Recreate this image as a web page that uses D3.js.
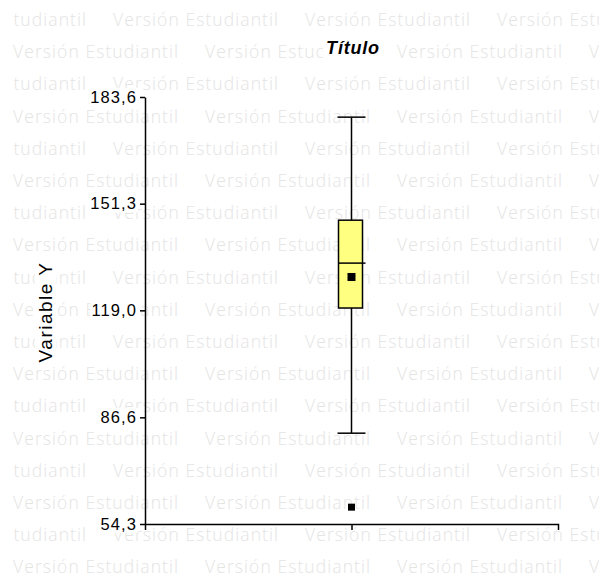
<!DOCTYPE html>
<html>
<head>
<meta charset="utf-8">
<script src="https://cdn.jsdelivr.net/npm/d3@7"></script>
<style>
  html, body { margin: 0; padding: 0; background: #ffffff; }
  svg { display: block; }
</style>
</head>
<body>
<svg id="chart" width="599" height="582"></svg>
<script>
// ---- data ----
const categories   = ["Variable Y"];
const whiskerLow   = [81.8];
const q1           = [119.7];
const median       = [133.3];
const q3           = [146.3];
const whiskerHigh  = [177.5];
const meanValues   = [129.1];
const outliers     = [[59.4]];
const yTicks       = [54.3, 86.6, 119.0, 151.3, 183.6];
const titleText    = "Título";
const yLabelText   = "Variable Y";
const watermarkText = "Versión Estudiantil";

const svg = d3.select("#chart");
const W = 599, H = 582;

// ---- watermark ----
const wmClip = svg.append("defs").append("clipPath").attr("id", "wmclip");
wmClip.append("rect").attr("x", 12).attr("y", 0).attr("width", W - 12).attr("height", H);
const wm = svg.append("g").attr("clip-path", "url(#wmclip)");
for (let r = 0; r < 18; r++) {
  const baseY = 26 + 32.2 * r;
  const start = (r % 2 === 0) ? -79 : 13;
  for (let x = start; x < W; x += 192) {
    wm.append("text")
      .attr("x", x).attr("y", baseY)
      .attr("textLength", 165).attr("lengthAdjust", "spacing")
      .style("font-family", "'Open Sans', 'Noto Sans', sans-serif")
      .style("font-size", "17.5px")
      .style("font-weight", 300)
      .style("fill", "#e4e4e4")
      .text(watermarkText);
  }
}

// ---- scales ----
const y = d3.scaleLinear().domain([d3.min(yTicks), d3.max(yTicks)]).range([524, 97]);
const x = d3.scalePoint().domain(categories).range([145, 558]).padding(0.5);

const fmt = v => d3.format(".1f")(v).replace(".", ",");
const fontFam = "'Liberation Sans', Arial, Helvetica, sans-serif";

// helper: white box behind text
function whiteBack(sel, pad) {
  sel.each(function() {
    const b = this.getBBox();
    const p = this.parentNode;
    const t = this.getAttribute("transform");
    const rect = document.createElementNS("http://www.w3.org/2000/svg", "rect");
    rect.setAttribute("x", b.x - pad);
    rect.setAttribute("y", b.y - pad + 1);
    rect.setAttribute("width", b.width + 2 * pad);
    rect.setAttribute("height", b.height + 2 * pad - 2);
    rect.setAttribute("fill", "#ffffff");
    if (t) rect.setAttribute("transform", t);
    p.insertBefore(rect, this);
  });
}

// ---- y axis ----
const yAxisG = svg.append("g")
  .attr("transform", "translate(145,0)")
  .call(d3.axisLeft(y).tickValues(yTicks).tickFormat(fmt).tickSize(5).tickSizeOuter(0).tickPadding(3));
yAxisG.select(".domain").attr("stroke", "#000").attr("stroke-width", 1.5);
yAxisG.selectAll(".tick line").attr("stroke", "#000").attr("stroke-width", 1.5);
yAxisG.selectAll(".tick text")
  .attr("fill", "#000")
  .style("font-family", fontFam)
  .style("font-size", "16.5px")
  .style("letter-spacing", "1.1px");
yAxisG.selectAll(".tick text").call(whiteBack, 1);

// ---- x axis ----
const xAxisG = svg.append("g")
  .attr("transform", "translate(0,524)")
  .call(d3.axisBottom(x).tickFormat(() => "").tickSizeInner(6).tickSizeOuter(6));
xAxisG.select(".domain").attr("stroke", "#000").attr("stroke-width", 1.5);
xAxisG.selectAll(".tick line").attr("stroke", "#000").attr("stroke-width", 1.5);

// ---- box plot ----
const boxW = 24, capW = 28;
const g = svg.append("g");
categories.forEach((c, i) => {
  const cx = x(c);
  g.append("line").attr("x1", cx).attr("x2", cx)
    .attr("y1", y(whiskerHigh[i])).attr("y2", y(whiskerLow[i]))
    .attr("stroke", "#000").attr("stroke-width", 1.5);
  [whiskerHigh[i], whiskerLow[i]].forEach(v => {
    g.append("line").attr("x1", cx - capW / 2).attr("x2", cx + capW / 2)
      .attr("y1", y(v)).attr("y2", y(v))
      .attr("stroke", "#000").attr("stroke-width", 1.5);
  });
  g.append("rect")
    .attr("x", cx - boxW / 2 - 1).attr("width", boxW)
    .attr("y", y(q3[i])).attr("height", y(q1[i]) - y(q3[i]))
    .attr("fill", "#ffff80").attr("stroke", "#000").attr("stroke-width", 1.5);
  g.append("line").attr("x1", cx - boxW / 2 - 1).attr("x2", cx + capW / 2)
    .attr("y1", y(median[i])).attr("y2", y(median[i]))
    .attr("stroke", "#000").attr("stroke-width", 1.5);
  g.append("rect").attr("x", cx - 4).attr("y", y(meanValues[i]) - 4)
    .attr("width", 8).attr("height", 8).attr("fill", "#000");
  outliers[i].forEach(v => {
    g.append("rect").attr("x", cx - 3.5).attr("y", y(v) - 3.5)
      .attr("width", 7).attr("height", 7).attr("fill", "#000");
  });
});

// ---- title ----
const title = svg.append("text")
  .attr("x", 353).attr("y", 54)
  .attr("text-anchor", "middle")
  .style("font-family", fontFam)
  .style("font-size", "18px")
  .style("font-weight", "bold")
  .style("font-style", "italic")
  .style("letter-spacing", "0.8px")
  .text(titleText);
title.call(whiteBack, 3);

// ---- y label ----
const ylab = svg.append("text")
  .attr("transform", "translate(52,312) rotate(-90)")
  .attr("text-anchor", "middle")
  .style("font-family", fontFam)
  .style("font-size", "19px")
  .style("letter-spacing", "1.5px")
  .text(yLabelText);
ylab.call(whiteBack, 1);
</script>
</body>
</html>
